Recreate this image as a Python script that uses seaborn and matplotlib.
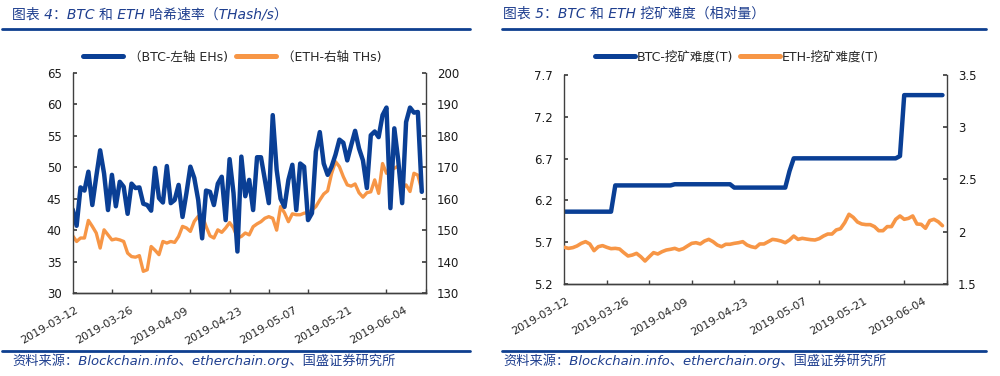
import numpy as np
import pandas as pd
import seaborn as sns
import matplotlib.pyplot as plt
import matplotlib.dates as mdates
import matplotlib.transforms as mtransforms
from matplotlib.lines import Line2D

sns.set_theme(style='ticks')
plt.rcParams['font.family'] = ['DejaVu Sans', 'Noto Sans CJK SC']

BLUE = '#0A3F95'
ORANGE = '#F79646'
NAVY = '#1F3F8F'
AXIS = '#404040'

# daily data, 2019-03-12 .. 2019-06-09
dates = pd.date_range('2019-03-12', periods=90, freq='D')

# BTC hash rate (EH/s, left axis)
btc_hash = [43.3, 40.7, 46.8, 46.3, 49.3, 44.0, 48.5, 52.7, 49.0, 43.2,
            48.8, 43.8, 47.7, 46.9, 42.6, 47.4, 46.7, 46.8, 44.2, 44.0,
            43.1, 49.9, 45.1, 44.4, 50.2, 44.3, 44.8, 47.2, 42.1, 45.9,
            50.1, 48.3, 44.8, 38.7, 46.3, 46.1, 44.0, 47.4, 48.5, 41.6,
            51.3, 45.9, 36.6, 51.7, 45.4, 48.0, 43.2, 51.6, 51.6, 48.0,
            44.3, 58.3, 49.6, 45.0, 43.7, 48.0, 50.4, 43.2, 50.6, 50.1,
            41.6, 42.7, 52.5, 55.6, 50.6, 48.8, 50.1, 52.0, 54.4, 53.9,
            51.1, 53.5, 55.8, 53.0, 51.1, 46.7, 55.1, 55.7, 54.8, 58.3,
            59.5, 43.5, 56.2, 51.1, 44.3, 57.2, 59.5, 58.7, 58.8, 46.1]

# ETH hash rate (TH/s, right axis)
eth_hash = [148.2, 146.4, 147.5, 147.5, 153.1, 151.2, 149.1, 144.3, 150.1, 148.5,
            146.9, 147.2, 146.9, 146.4, 142.7, 141.6, 141.4, 141.9, 136.9, 137.4,
            144.8, 143.6, 142.2, 146.4, 145.9, 146.4, 146.1, 148.0, 151.2, 150.7,
            149.6, 152.8, 154.4, 154.7, 151.2, 148.2, 147.5, 150.1, 149.3, 150.7,
            152.4, 150.7, 147.5, 148.0, 149.1, 148.5, 151.1, 152.0, 152.7, 153.8,
            154.3, 153.8, 150.0, 157.5, 155.5, 152.7, 155.2, 154.9, 154.9, 155.4,
            155.6, 156.4, 157.5, 159.6, 161.5, 162.5, 168.0, 171.8, 170.2, 167.0,
            164.4, 164.0, 164.7, 161.9, 160.5, 161.9, 162.2, 166.0, 161.7, 171.2,
            168.1, 169.1, 169.7, 170.4, 163.3, 164.4, 162.3, 168.1, 167.5, 162.8]

# BTC difficulty (T, left axis)
btc_diff = [6.065, 6.065, 6.065, 6.065, 6.065, 6.065, 6.065, 6.065, 6.065, 6.065,
            6.065, 6.065, 6.379, 6.379, 6.379, 6.379, 6.379, 6.379, 6.379, 6.379,
            6.379, 6.379, 6.379, 6.379, 6.379, 6.379, 6.393, 6.393, 6.393, 6.393,
            6.393, 6.393, 6.393, 6.393, 6.393, 6.393, 6.393, 6.393, 6.393, 6.393,
            6.353, 6.353, 6.353, 6.353, 6.353, 6.353, 6.353, 6.353, 6.353, 6.353,
            6.353, 6.353, 6.353, 6.550, 6.703, 6.703, 6.703, 6.703, 6.703, 6.703,
            6.703, 6.703, 6.703, 6.703, 6.703, 6.703, 6.703, 6.703, 6.703, 6.703,
            6.703, 6.703, 6.703, 6.703, 6.703, 6.703, 6.703, 6.703, 6.703, 6.730,
            7.459, 7.459, 7.459, 7.459, 7.459, 7.459, 7.459, 7.459, 7.459, 7.459]

# ETH difficulty (relative, right axis)
eth_diff = [1.851, 1.841, 1.848, 1.864, 1.889, 1.905, 1.883, 1.819, 1.857, 1.867,
            1.851, 1.838, 1.841, 1.835, 1.800, 1.768, 1.777, 1.793, 1.761, 1.720,
            1.761, 1.800, 1.787, 1.809, 1.825, 1.832, 1.841, 1.825, 1.838, 1.864,
            1.889, 1.895, 1.883, 1.911, 1.927, 1.905, 1.873, 1.857, 1.880, 1.880,
            1.889, 1.895, 1.905, 1.873, 1.857, 1.848, 1.883, 1.883, 1.905, 1.927,
            1.921, 1.911, 1.895, 1.921, 1.959, 1.927, 1.937, 1.930, 1.924, 1.921,
            1.934, 1.959, 1.978, 1.978, 2.017, 2.029, 2.087, 2.167, 2.138, 2.093,
            2.074, 2.068, 2.068, 2.049, 2.010, 2.010, 2.049, 2.049, 2.119, 2.151,
            2.119, 2.128, 2.151, 2.074, 2.071, 2.033, 2.106, 2.119, 2.096, 2.058]

label_dates = pd.date_range('2019-03-12', '2019-06-04', freq='14D')
mark_dates = pd.date_range('2019-03-12', '2019-06-10', freq='10D')


def style_x(ax, fig):
    ax.set_xlim(mark_dates[0], mark_dates[-1])
    ax.set_xticks(label_dates)
    ax.set_xticklabels([d.strftime('%Y-%m-%d') for d in label_dates],
                       rotation=30, ha='right', va='center',
                       rotation_mode='anchor', fontsize=8)
    ax.set_xticks(mark_dates, minor=True)
    ax.tick_params(axis='x', which='major', length=0, pad=12)
    ax.tick_params(axis='x', which='minor', direction='in', length=3,
                   color=AXIS)
    ax.set_xlabel('')
    shift = mtransforms.ScaledTranslation(0.045, 0, fig.dpi_scale_trans)
    for lab in ax.get_xticklabels():
        lab.set_transform(lab.get_transform() + shift)


def style_y(ax, side):
    ax.tick_params(axis='y', direction='in', length=3, labelsize=8.5,
                   pad=8, color=AXIS, labelcolor='#1a1a1a')
    ax.set_ylabel('')
    ax.spines['top'].set_visible(False)
    for s in ['left', 'right', 'bottom']:
        ax.spines[s].set_color(AXIS)
        ax.spines[s].set_linewidth(1.0)
    if side == 'left':
        ax.spines['right'].set_visible(False)


fig = plt.figure(figsize=(10, 3.76), dpi=100)

# ---------------- left panel: hash rate ----------------
ax1 = fig.add_axes([0.0727, 0.2207, 0.353, 0.5851])
sns.lineplot(x=dates, y=btc_hash, ax=ax1, color=BLUE, linewidth=3.2)
ax1.set_ylim(30, 65)
ax1.set_yticks(np.arange(30, 66, 5))
style_y(ax1, 'left')
style_x(ax1, fig)

ax2 = ax1.twinx()
sns.lineplot(x=dates, y=eth_hash, ax=ax2, color=ORANGE, linewidth=2.4)
ax2.set_ylim(130, 200)
ax2.set_yticks(np.arange(130, 201, 10))
style_y(ax2, 'right')
ax2.spines['left'].set_visible(False)
ax1.set_zorder(ax2.get_zorder() + 1)
ax1.patch.set_visible(False)

# ---------------- right panel: difficulty ----------------
ax3 = fig.add_axes([0.5643, 0.2447, 0.3824, 0.5559])
sns.lineplot(x=dates, y=btc_diff, ax=ax3, color=BLUE, linewidth=3.2)
ax3.set_ylim(5.2, 7.7)
ax3.set_yticks([5.2, 5.7, 6.2, 6.7, 7.2, 7.7])
ax3.set_yticklabels(['5.2', '5.7', '6.2', '6.7', '7.2', '7.7'])
style_y(ax3, 'left')
style_x(ax3, fig)

ax4 = ax3.twinx()
sns.lineplot(x=dates, y=eth_diff, ax=ax4, color=ORANGE, linewidth=2.6)
ax4.set_ylim(1.5, 3.5)
ax4.set_yticks([1.5, 2.0, 2.5, 3.0, 3.5])
ax4.set_yticklabels(['1.5', '2', '2.5', '3', '3.5'])
style_y(ax4, 'right')
ax4.spines['left'].set_visible(False)

# legends
h1 = [Line2D([], [], color=BLUE, lw=3.6), Line2D([], [], color=ORANGE, lw=3.6)]
fig.legend(h1, ['（BTC-左轴 EHs)', '（ETH-右轴 THs)'], loc='center',
           bbox_to_anchor=(0.232, 1 - 57 / 376), ncol=2, frameon=False,
           fontsize=9, handlelength=3.2, handletextpad=0.5, columnspacing=0.6)
fig.legend(h1, ['BTC-挖矿难度(T)', 'ETH-挖矿难度(T)'], loc='center',
           bbox_to_anchor=(0.737, 1 - 57 / 376), ncol=2, frameon=False,
           fontsize=9, handlelength=3.2, handletextpad=0.1, columnspacing=0.6)

# titles, header and footer rules
fig.text(0.012, 1 - 14 / 376, '图表 4：BTC 和 ETH 哈希速率（THash/s）',
         fontsize=10, style='italic', color=NAVY, va='center', ha='left')
fig.text(0.503, 1 - 14 / 376, '图表 5：BTC 和 ETH 挖矿难度（相对量）',
         fontsize=10, style='italic', color=NAVY, va='center', ha='left')
for x0, x1 in [(0.002, 0.470), (0.502, 0.986)]:
    fig.add_artist(Line2D([x0, x1], [1 - 28.5 / 376] * 2, color='#0E3F8F', lw=2))
    fig.add_artist(Line2D([x0, x1], [1 - 350.5 / 376] * 2, color='#0E3F8F', lw=2))
src = '资料来源：Blockchain.info、etherchain.org、国盛证券研究所'
fig.text(0.012, 1 - 361 / 376, src, fontsize=9.5, style='italic',
         color=NAVY, va='center', ha='left')
fig.text(0.503, 1 - 361 / 376, src, fontsize=9.5, style='italic',
         color=NAVY, va='center', ha='left')

fig.savefig('out.png', dpi=100, facecolor='white')
